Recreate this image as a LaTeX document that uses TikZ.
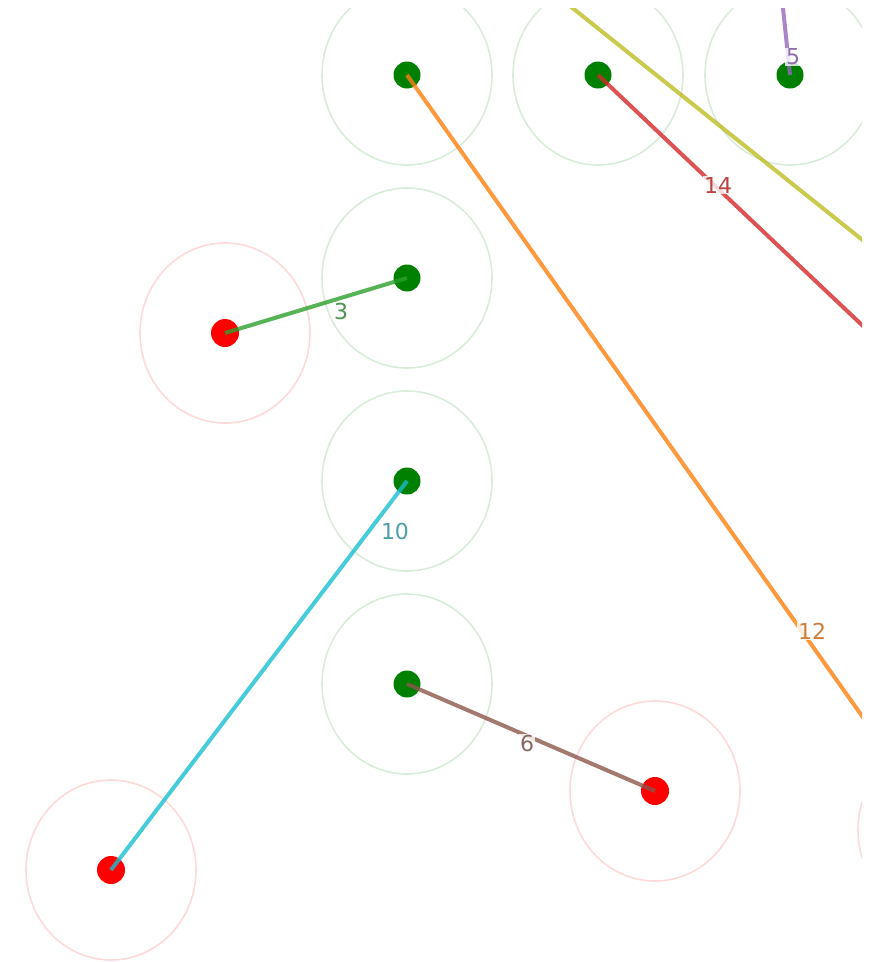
\documentclass[tikz,border=0pt]{standalone}
\usepackage{fontspec}
\newfontfamily\lblfont{DejaVu Sans}
\usetikzlibrary{positioning}
\definecolor{NodeGreen}{RGB}{0,128,0}
\definecolor{NodeRed}{RGB}{255,0,0}
\definecolor{TabGreen}{RGB}{44,160,44}
\definecolor{TabCyan}{RGB}{23,190,207}
\definecolor{TabBrown}{RGB}{140,86,75}
\definecolor{TabOrange}{RGB}{255,127,14}
\definecolor{TabRed}{RGB}{214,39,40}
\definecolor{TabOlive}{RGB}{188,189,34}
\definecolor{TabPurple}{RGB}{148,103,189}

\begin{document}
\begin{tikzpicture}[x=1pt, y=-1pt,
	gnode/.style={circle, fill=NodeGreen, minimum size=27pt, inner sep=0pt},
	rnode/.style={circle, fill=NodeRed, minimum size=28pt, inner sep=0pt},
	grange/.style={draw=NodeGreen!15, line width=1.6pt},
	rrange/.style={draw=NodeRed!15, line width=1.6pt},
	link/.style={line width=4pt, opacity=0.8},
	lbl/.style={fill=white, fill opacity=0.8, text opacity=1, inner sep=1pt,
		font=\lblfont\fontsize{22}{22}\selectfont}]
	\useasboundingbox (0,0) rectangle (879,962);
	\clip (0,8) rectangle (862,962);
	% sensors and targets
	\node[gnode] (g1) at (407,75) {};
	\node[gnode] (g2) at (598,75) {};
	\node[gnode] (g3) at (790,75) {};
	\node[gnode] (g4) at (407,278) {};
	\node[gnode] (g5) at (407,481) {};
	\node[gnode] (g6) at (407,684) {};
	\node[rnode] (r1) at (225,333) {};
	\node[rnode] (r2) at (111,870) {};
	\node[rnode] (r3) at (655,791) {};
	\node[rnode] (r4) at (943,830) {};
	% ranges
	\foreach \n in {g1,g2,g3,g4,g5,g6}
		\draw[grange] (\n.center) ellipse (85 and 90);
	\foreach \n in {r1,r2,r3,r4}
		\draw[rrange] (\n.center) ellipse (85 and 90);
	% off-picture ends
	\coordinate (e5) at (779,-30);
	\coordinate (e14) at (920,380);
	\coordinate (o1) at (520,-34);
	\coordinate (o2) at (920,286);
	% links
	\draw[link, TabOlive] (o1) -- (o2);
	\draw[link, TabPurple] (e5) -- (g3.center);
	\draw[link, TabRed] (g2.center) -- (e14);
	\draw[link, TabOrange] (g1.center) -- (r4.center);
	\draw[link, TabGreen] (r1.center) -- (g4.center);
	\draw[link, TabCyan] (r2.center) -- (g5.center);
	\draw[link, TabBrown] (g6.center) -- (r3.center);
	% labels
	\node[lbl, text=TabPurple!70!gray] (l5) at (793,57) {5};
	\node[lbl, text=TabRed!70!gray] (l14) at (718,185) {14};
	\node[lbl, text=TabOrange!60!gray] (l12) at (812,631) {12};
	\node[lbl, text=TabGreen!60!gray] (l3) at (341,311) {3};
	\node[lbl, text=TabCyan!50!gray] (l10) at (395,531) {10};
	\node[lbl, text=TabBrown!60!gray] (l6) at (527,743) {6};
\end{tikzpicture}
\end{document}
